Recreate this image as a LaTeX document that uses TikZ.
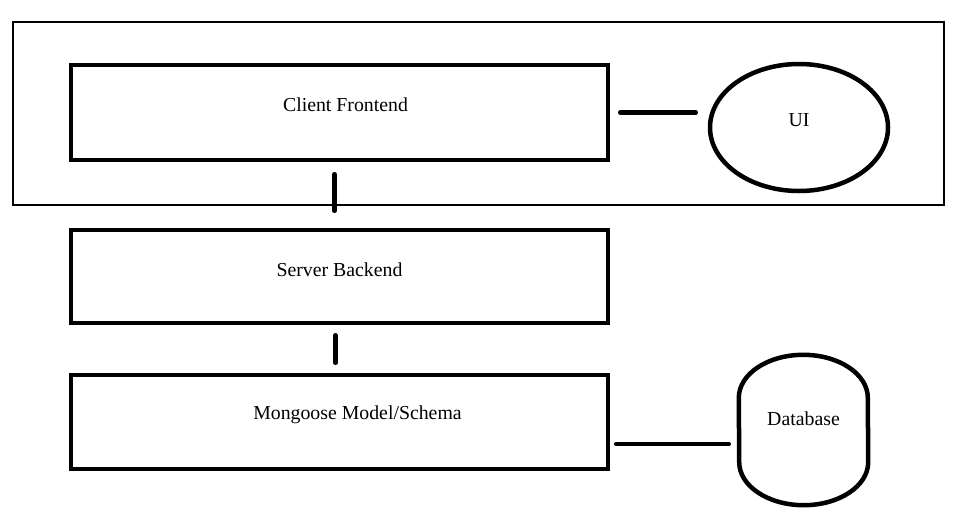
\documentclass[tikz,border=0pt]{standalone}
\usepackage{fontspec}
\setmainfont{Liberation Serif}
\usepackage{tikz}
\usetikzlibrary{shapes.geometric}
\tikzstyle{box}=[rectangle, draw=black, line width=4.5pt, minimum width=537pt, text depth=14pt, inner sep=0pt]
\tikzstyle{conn}=[line width=4.5pt, line cap=round]

\begin{document}
\begin{tikzpicture}[x=1pt, y=-1pt, font=\fontsize{19.8}{23}\selectfont]
  \useasboundingbox (0,0) rectangle (968,531);
  \draw[line width=2pt] (13,22) rectangle (944,205);
  \node[box, minimum height=95pt, label={[xshift=6pt, yshift=8pt]center:Client Frontend}] (client) at (339.5,112.5) {};
  \node[box, minimum height=93pt] (server) at (339.5,276.5) {Server Backend};
  \node[box, minimum height=94pt, label={[xshift=18pt, yshift=7pt]center:Mongoose Model/Schema}] (mongo) at (339.5,422) {};
  \node[ellipse, draw=black, line width=4.5pt, minimum width=178pt, minimum height=127pt, text depth=14pt, inner sep=0pt] (ui) at (799,127.5) {UI};
  \node[minimum width=129pt, minimum height=150pt, text depth=22pt, inner sep=0pt] (db) at (803.5,430) {Database};
  \draw[line width=4.5pt] ([yshift=-43pt]db.north west) arc[start angle=180, end angle=360, x radius=64.5, y radius=43]
    -- ([yshift=43pt]db.south east) arc[start angle=0, end angle=180, x radius=64.5, y radius=43] -- cycle;
  \draw[conn, shorten <=12pt, shorten >=17pt] ([xshift=-5pt]client.south) -- ([xshift=-5pt]server.north);
  \draw[conn, shorten <=10pt, shorten >=10pt] ([xshift=-4pt]server.south) -- ([xshift=-4pt]mongo.north);
  \draw[conn, shorten <=10pt, shorten >=12pt] (client.east) -- (client.east -| ui.west);
  \draw[conn, shorten <=6pt, shorten >=10pt] ([yshift=-22pt]mongo.east) -- ([yshift=-22pt]mongo.east -| db.west);
\end{tikzpicture}
\end{document}
